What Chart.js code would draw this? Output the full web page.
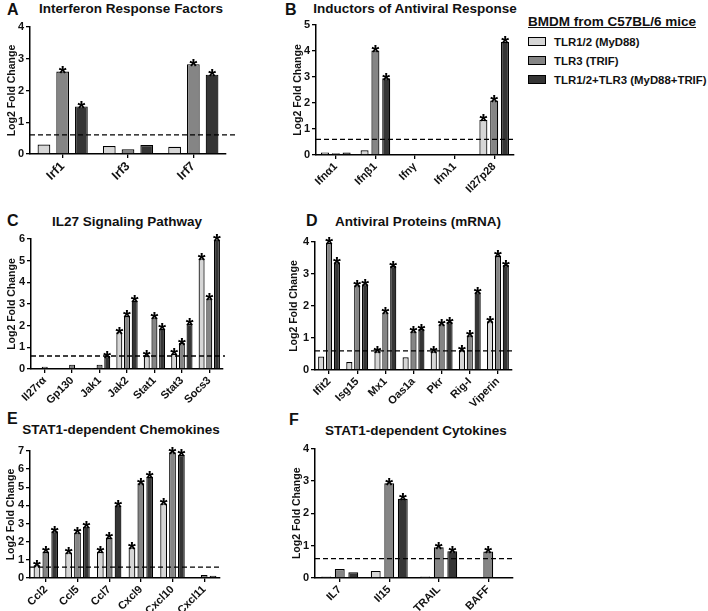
<!DOCTYPE html>
<html>
<head>
<meta charset="utf-8">
<script src="https://cdn.jsdelivr.net/npm/chart.js@4.4.0/dist/chart.umd.min.js"></script>
<style>
body { margin: 0; background: #fff; font-family: "Liberation Sans", Arial, sans-serif; color: #111; }
#fig { position: relative; width: 708px; height: 611px; overflow: hidden; }
canvas { position: absolute; }
.letter { position: absolute; font-weight: bold; font-size: 16px; line-height: 1; }
.ttl { position: absolute; font-weight: bold; font-size: 13.5px; line-height: 1; white-space: nowrap; transform: translateX(-50%); }
#legend { position: absolute; left: 528px; top: 14px; font-weight: bold; }
#legend .head { font-size: 13.5px; text-decoration: underline; margin-bottom: 3px; }
#legend .row { font-size: 11.4px; height: 19px; display: flex; align-items: center; }
#legend .sw { width: 16px; height: 7px; border: 1px solid #000; margin-right: 8px; }
</style>
</head>
<body>
<div id="fig">
  <div class="letter" style="left:7px;top:2px">A</div>
  <div class="ttl" style="left:131px;top:2px">Interferon Response Factors</div>
  <div class="letter" style="left:285px;top:2px">B</div>
  <div class="ttl" style="left:415px;top:2px">Inductors of Antiviral Response</div>
  <div class="letter" style="left:7px;top:213px">C</div>
  <div class="ttl" style="left:127px;top:215px">IL27 Signaling Pathway</div>
  <div class="letter" style="left:306px;top:213px">D</div>
  <div class="ttl" style="left:418px;top:215px">Antiviral Proteins (mRNA)</div>
  <div class="letter" style="left:7px;top:411px">E</div>
  <div class="ttl" style="left:121px;top:423px">STAT1-dependent Chemokines</div>
  <div class="letter" style="left:289px;top:412px">F</div>
  <div class="ttl" style="left:416px;top:424px">STAT1-dependent Cytokines</div>
  <div id="legend"></div>
</div>
<script>
// groups and colours
const legendTitle = 'BMDM from C57BL/6 mice';
const seriesNames = ['TLR1/2 (MyD88)', 'TLR3 (TRIF)', 'TLR1/2+TLR3 (MyD88+TRIF)'];
const seriesColors = ['#d6d6d6', '#858585', '#353535'];
const cutoff = 0.6;

// A - Interferon Response Factors
const irfGenes = ['Irf1', 'Irf3', 'Irf7'];
const irfTlr12 = [0.3, 0.25, 0.23];
const irfTlr3 = [2.6, 0.15, 2.83];
const irfBoth = [1.5, 0.28, 2.5];
const irfStars = [[0, 0, 0], [1, 0, 1], [1, 0, 1]];

// B - Inductors of Antiviral Response
const indGenes = ['Ifnα1', 'Ifnβ1', 'Ifnγ', 'Ifnλ1', 'Il27p28'];
const indTlr12 = [0.1, 0.18, 0, 0, 1.35];
const indTlr3 = [0.07, 4.02, 0.03, 0, 2.1];
const indBoth = [0.1, 2.95, 0, 0, 4.35];
const indStars = [[0, 0, 0, 0, 1], [0, 1, 0, 0, 1], [0, 1, 0, 0, 1]];

// C - IL27 Signaling Pathway
const il27Genes = ['Il27rα', 'Gp130', 'Jak1', 'Jak2', 'Stat1', 'Stat3', 'Socs3'];
const il27Tlr12 = [0, 0, 0.02, 1.7, 0.62, 0.7, 5.1];
const il27Tlr3 = [0.1, 0.2, 0.2, 2.45, 2.38, 1.2, 3.25];
const il27Both = [0, 0, 0.6, 3.15, 1.85, 2.08, 5.97];
const il27Stars = [[0, 0, 0, 1, 1, 1, 1], [0, 0, 0, 1, 1, 1, 1], [0, 0, 1, 1, 1, 1, 1]];

// D - Antiviral Proteins (mRNA)
const avGenes = ['Ifit2', 'Isg15', 'Mx1', 'Oas1a', 'Pkr', 'Rig-I', 'Viperin'];
const avTlr12 = [0.42, 0.25, 0.58, 0.4, 0.58, 0.62, 1.52];
const avTlr3 = [3.97, 2.65, 1.8, 1.2, 1.43, 1.08, 3.57];
const avBoth = [3.37, 2.68, 3.25, 1.28, 1.5, 2.43, 3.28];
const avStars = [[0, 0, 1, 0, 1, 1, 1], [1, 1, 1, 1, 1, 1, 1], [1, 1, 1, 1, 1, 1, 1]];

// E - STAT1-dependent Chemokines
const chemGenes = ['Ccl2', 'Ccl5', 'Ccl7', 'Cxcl9', 'Cxcl10', 'Cxcl11'];
const chemTlr12 = [0.7, 1.4, 1.45, 1.68, 4.1, 0];
const chemTlr3 = [1.45, 2.5, 2.22, 5.22, 6.93, 0.17];
const chemBoth = [2.57, 2.83, 4.0, 5.58, 6.78, 0.12];
const chemStars = [[1, 1, 1, 1, 1, 0], [1, 1, 1, 1, 1, 0], [1, 1, 1, 1, 1, 0]];

// F - STAT1-dependent Cytokines
const cytGenes = ['IL7', 'Il15', 'TRAIL', 'BAFF'];
const cytTlr12 = [0.05, 0.22, 0.05, 0];
const cytTlr3 = [0.28, 2.93, 0.95, 0.82];
const cytBoth = [0.18, 2.45, 0.83, 0];
const cytStars = [[0, 0, 0, 0], [0, 1, 1, 1], [0, 1, 1, 0]];

// legend
const leg = document.getElementById('legend');
leg.innerHTML = '<div class="head">' + legendTitle + '</div>' +
  seriesNames.map((n, i) => '<div class="row"><span class="sw" style="background:' + seriesColors[i] + '"></span>' + n + '</div>').join('');

// dashed cutoff line and asterisks
const marksPlugin = {
  id: 'marks',
  afterDatasetsDraw(chart, args, opts) {
    const { ctx, chartArea } = chart;
    const yPos = chart.scales.y.getPixelForValue(cutoff);
    ctx.save();
    ctx.strokeStyle = '#000';
    ctx.lineWidth = 1.3;
    ctx.setLineDash([5, 3]);
    ctx.beginPath();
    ctx.moveTo(chartArea.left, yPos);
    ctx.lineTo(chartArea.right + opts.extend, yPos);
    ctx.stroke();
    ctx.setLineDash([]);
    ctx.fillStyle = '#000';
    ctx.font = 'bold 20px "Liberation Sans"';
    ctx.textAlign = 'center';
    opts.stars.forEach((row, si) => {
      const meta = chart.getDatasetMeta(si);
      row.forEach((s, ci) => {
        if (!s) return;
        const bar = meta.data[ci];
        ctx.fillText('*', bar.x, bar.y + 8.5);
      });
    });
    ctx.restore();
  }
};

function makePanel(g, labels, vals, stars, yMax) {
  const canvas = document.createElement('canvas');
  canvas.width = g.w;
  canvas.height = g.h;
  canvas.style.left = g.left + 'px';
  canvas.style.top = g.top + 'px';
  document.getElementById('fig').appendChild(canvas);

  new Chart(canvas, {
    type: 'bar',
    data: {
      labels: labels,
      datasets: vals.map((v, i) => ({
        label: seriesNames[i],
        data: v,
        backgroundColor: seriesColors[i],
        borderColor: '#000',
        borderWidth: 1.2,
        categoryPercentage: g.cat,
        barPercentage: g.bar
      }))
    },
    options: {
      responsive: false,
      animation: false,
      layout: { padding: { top: g.topY - g.top, right: g.left + g.w - g.rightX, left: 0, bottom: 0 } },
      plugins: {
        legend: { display: false },
        tooltip: { enabled: false },
        marks: { stars: stars, extend: g.ext }
      },
      scales: {
        x: {
          afterFit: s => { s.height = g.top + g.h - g.zeroY; },
          grid: { display: true, drawOnChartArea: false, offset: false, tickLength: 4, color: '#000', lineWidth: 1.3 },
          border: { display: true, color: '#000', width: 1.5 },
          ticks: { color: '#111', font: { family: 'Liberation Sans', weight: 'bold', size: g.xFont || 11 }, minRotation: 45, maxRotation: 45, autoSkip: false, padding: 1 }
        },
        y: {
          min: 0,
          max: yMax,
          afterFit: s => { s.width = g.axisX - g.left; },
          grid: { display: true, drawOnChartArea: false, tickLength: 4, color: '#000', lineWidth: 1.3 },
          border: { display: true, color: '#000', width: 1.5 },
          ticks: { stepSize: 1, color: '#111', font: { family: 'Liberation Sans', weight: 'bold', size: 11 }, padding: 2 },
          title: { display: true, text: 'Log2 Fold Change', color: '#111', font: { family: 'Liberation Sans', weight: 'bold', size: 10.5 }, padding: 0 }
        }
      }
    },
    plugins: [marksPlugin]
  });
}

makePanel({ left: 6, top: 18, w: 240, h: 190, axisX: 30, topY: 27, zeroY: 154, rightX: 226, cat: 0.86, bar: 0.68, ext: 12, xFont: 12.5 },
  irfGenes, [irfTlr12, irfTlr3, irfBoth], irfStars, 4);
makePanel({ left: 292, top: 16, w: 232, h: 190, axisX: 316, topY: 25, zeroY: 155, rightX: 514, cat: 0.82, bar: 0.74, ext: 2 },
  indGenes, [indTlr12, indTlr3, indBoth], indStars, 5);
makePanel({ left: 6, top: 230, w: 234, h: 178, axisX: 31, topY: 239, zeroY: 369, rightX: 223, cat: 0.84, bar: 0.78, ext: 2 },
  il27Genes, [il27Tlr12, il27Tlr3, il27Both], il27Stars, 6);
makePanel({ left: 288, top: 230, w: 240, h: 178, axisX: 315, topY: 242, zeroY: 370, rightX: 512, cat: 0.84, bar: 0.78, ext: 3 },
  avGenes, [avTlr12, avTlr3, avBoth], avStars, 4);
makePanel({ left: 5, top: 440, w: 230, h: 171, axisX: 30, topY: 451, zeroY: 578, rightX: 220, cat: 0.84, bar: 0.76, ext: 2 },
  chemGenes, [chemTlr12, chemTlr3, chemBoth], chemStars, 7);
makePanel({ left: 291, top: 440, w: 231, h: 171, axisX: 315, topY: 448, zeroY: 578, rightX: 513, cat: 0.82, bar: 0.73, ext: 2 },
  cytGenes, [cytTlr12, cytTlr3, cytBoth], cytStars, 4);
</script>
</body>
</html>
